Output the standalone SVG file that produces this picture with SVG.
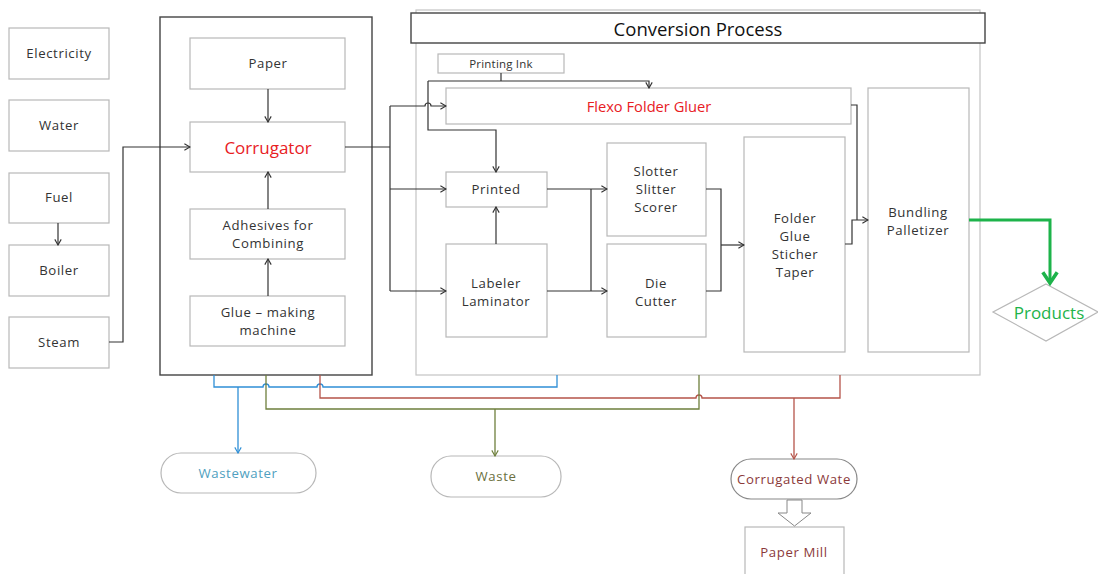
<svg xmlns="http://www.w3.org/2000/svg" width="1098" height="574" viewBox="0 0 1098 574">
<defs>
<style>
.box{fill:#fff;stroke:#b8b8b8;stroke-width:1.2}
.dark{fill:none;stroke:#444;stroke-width:1.4}
.t{font-family:"Open Sans","Noto Sans",sans-serif;font-size:13.2px;letter-spacing:0.6px;fill:#333;text-anchor:middle;dominant-baseline:central}
.red{fill:#e8201f}
.ln{fill:none;stroke:#333;stroke-width:1.2}
.blue{fill:none;stroke:#2f8fd6;stroke-width:1.3}
.rl{fill:none;stroke:#b5544a;stroke-width:1.3}
.gl{fill:none;stroke:#6e7f3c;stroke-width:1.3}
</style>
<marker id="a" viewBox="0 0 10 10" refX="9" refY="5" markerWidth="8" markerHeight="8" markerUnits="userSpaceOnUse" orient="auto"><polyline points="2,1 9,5 2,9" fill="none" stroke="#333" stroke-width="1.4"/></marker>
<marker id="ab" viewBox="0 0 10 10" refX="9" refY="5" markerWidth="8" markerHeight="8" markerUnits="userSpaceOnUse" orient="auto"><polyline points="2,1 9,5 2,9" fill="none" stroke="#2f8fd6" stroke-width="1.4"/></marker>
<marker id="ar" viewBox="0 0 10 10" refX="9" refY="5" markerWidth="8" markerHeight="8" markerUnits="userSpaceOnUse" orient="auto"><polyline points="2,1 9,5 2,9" fill="none" stroke="#b5544a" stroke-width="1.4"/></marker>
<marker id="ag" viewBox="0 0 10 10" refX="9" refY="5" markerWidth="8" markerHeight="8" markerUnits="userSpaceOnUse" orient="auto"><polyline points="2,1 9,5 2,9" fill="none" stroke="#6e7f3c" stroke-width="1.4"/></marker>
<marker id="agr" viewBox="0 0 10 10" refX="8" refY="5" markerWidth="18" markerHeight="18" markerUnits="userSpaceOnUse" orient="auto"><polyline points="2,1 8,5 2,9" fill="none" stroke="#1db34a" stroke-width="2"/></marker>
</defs>
<rect width="1098" height="574" fill="#fff"/>

<g id="conversion-process">
<rect x="416" y="10" width="564" height="365" fill="none" stroke="#c4c4c4" stroke-width="1.2"/>
<rect x="411" y="13" width="574" height="30" fill="#fff" stroke="#444" stroke-width="1.4"/>
<text class="t" x="698" y="28" style="font-size:18.5px;letter-spacing:0;fill:#111">Conversion Process</text>
</g>

<g id="corrugator-section">
<rect x="160" y="17" width="212" height="358" class="dark"/>
</g>

<g id="electricity"><rect class="box" x="9" y="28" width="100" height="51"/><text class="t" x="59" y="53">Electricity</text></g>
<g id="water"><rect class="box" x="9" y="100" width="100" height="51"/><text class="t" x="59" y="125">Water</text></g>
<g id="fuel"><rect class="box" x="9" y="173" width="100" height="50"/><text class="t" x="59" y="197">Fuel</text></g>
<g id="boiler"><rect class="box" x="9" y="245" width="100" height="51"/><text class="t" x="59" y="270">Boiler</text></g>
<g id="steam"><rect class="box" x="9" y="317" width="100" height="51"/><text class="t" x="59" y="342">Steam</text></g>

<g id="paper"><rect class="box" x="190" y="38" width="155" height="51"/><text class="t" x="268" y="63">Paper</text></g>
<g id="corrugator"><rect class="box" x="190" y="122" width="155" height="50"/><text class="t red" x="268" y="147" style="font-size:17px;letter-spacing:0">Corrugator</text></g>
<g id="adhesives"><rect class="box" x="190" y="209" width="155" height="50"/><text class="t" x="268" y="225">Adhesives for</text><text class="t" x="268" y="243">Combining</text></g>
<g id="glue-machine"><rect class="box" x="190" y="296" width="155" height="50"/><text class="t" x="268" y="312">Glue – making</text><text class="t" x="268" y="330">machine</text></g>

<g id="printing-ink"><rect class="box" x="438" y="54" width="126" height="19"/><text class="t" x="501" y="63.5" style="font-size:11.5px;letter-spacing:0.2px">Printing Ink</text></g>
<g id="flexo"><rect class="box" x="446" y="88" width="405" height="36"/><text class="t red" x="649" y="106" style="font-size:14.7px;letter-spacing:0">Flexo Folder Gluer</text></g>
<g id="printed"><rect class="box" x="446" y="172" width="101" height="35"/><text class="t" x="496" y="189">Printed</text></g>
<g id="labeler"><rect class="box" x="446" y="244" width="101" height="93"/><text class="t" x="496" y="282.5">Labeler</text><text class="t" x="496" y="300.5">Laminator</text></g>
<g id="slotter"><rect class="box" x="607" y="143" width="99" height="93"/><text class="t" x="656" y="171">Slotter</text><text class="t" x="656" y="189">Slitter</text><text class="t" x="656" y="207">Scorer</text></g>
<g id="die-cutter"><rect class="box" x="607" y="244" width="99" height="93"/><text class="t" x="656" y="282.5">Die</text><text class="t" x="656" y="300.5">Cutter</text></g>
<g id="folder"><rect class="box" x="744" y="137" width="101" height="215"/><text class="t" x="795" y="217.5">Folder</text><text class="t" x="795" y="235.5">Glue</text><text class="t" x="795" y="253.5">Sticher</text><text class="t" x="795" y="271.5">Taper</text></g>
<g id="bundling"><rect class="box" x="868" y="88" width="101" height="264"/><text class="t" x="918" y="211.5">Bundling</text><text class="t" x="918" y="229.5">Palletizer</text></g>

<g id="products"><polygon points="1046,284 1098,312 1046,341 993,312" fill="#fff" stroke="#b8b8b8" stroke-width="1.2"/><text class="t" x="1049" y="312" style="fill:#1db34a;font-size:17px;letter-spacing:0">Products</text></g>

<g id="wastewater"><rect x="161" y="453" width="155" height="40" rx="20" fill="#fff" stroke="#b8b8b8" stroke-width="1.2"/><text class="t" x="238" y="473" style="fill:#4f9fc0">Wastewater</text></g>
<g id="waste"><rect x="431" y="456" width="130" height="41" rx="20" fill="#fff" stroke="#b8b8b8" stroke-width="1.2"/><text class="t" x="496" y="476" style="fill:#6b7040">Waste</text></g>
<g id="corrugated-waste"><rect x="731" y="459" width="126" height="40" rx="20" fill="#fff" stroke="#888" stroke-width="1.2"/><text class="t" x="794" y="479" style="fill:#8b3a3a">Corrugated Wate</text></g>
<g id="paper-mill"><rect x="745" y="527" width="99" height="60" fill="#fff" stroke="#b8b8b8" stroke-width="1.2"/><text class="t" x="794" y="552" style="fill:#8b3a3a">Paper Mill</text></g>

<g id="connectors">
<path class="ln" d="M58,223 V245" marker-end="url(#a)"/>
<path class="ln" d="M109,342 H123 V147 H190" marker-end="url(#a)"/>
<path class="ln" d="M268,89 V122" marker-end="url(#a)"/>
<path class="ln" d="M268,209 V172" marker-end="url(#a)"/>
<path class="ln" d="M268,296 V259" marker-end="url(#a)"/>
<path class="ln" d="M345,147 H390"/>
<path class="ln" d="M390,106 V291"/>
<path class="ln" d="M390,106 H425 A3,3 0 0 1 431,106 H446" marker-end="url(#a)"/>
<path class="ln" d="M390,189 H446" marker-end="url(#a)"/>
<path class="ln" d="M390,291 H446" marker-end="url(#a)"/>
<path class="ln" d="M501,73 V81"/>
<path class="ln" d="M428,81 H649 V88" marker-end="url(#a)"/>
<path class="ln" d="M428,81 V130 H496 V172" marker-end="url(#a)"/>
<path class="ln" d="M496,244 V207" marker-end="url(#a)"/>
<path class="ln" d="M547,189 H607" marker-end="url(#a)"/>
<path class="ln" d="M547,291 H607" marker-end="url(#a)"/>
<path class="ln" d="M591,189 V291"/>
<path class="ln" d="M706,189 H721 V291 H706"/>
<path class="ln" d="M721,245 H744" marker-end="url(#a)"/>
<path class="ln" d="M851,105 H857 V220"/>
<path class="ln" d="M845,244 H852 V220 H868" marker-end="url(#a)"/>
<path d="M969,220 H1050 V283" fill="none" stroke="#1db34a" stroke-width="3" marker-end="url(#agr)"/>
<path class="blue" d="M214,375 V387 H263 A3,3 0 0 1 269,387 H317 A3,3 0 0 1 323,387 H557 V375"/>
<path class="blue" d="M238,387 V453" marker-end="url(#ab)"/>
<path class="rl" d="M320,375 V398 H696 A3,3 0 0 1 702,398 H840 V375"/>
<path class="rl" d="M794,398 V459" marker-end="url(#ar)"/>
<path class="gl" d="M266,375 V409 H699 V375"/>
<path class="gl" d="M495,409 V456" marker-end="url(#ag)"/>
<polygon points="787,500 802,500 802,513 811,513 794.5,526 778,513 787,513" fill="#fff" stroke="#888" stroke-width="1"/>
</g>
</svg>
